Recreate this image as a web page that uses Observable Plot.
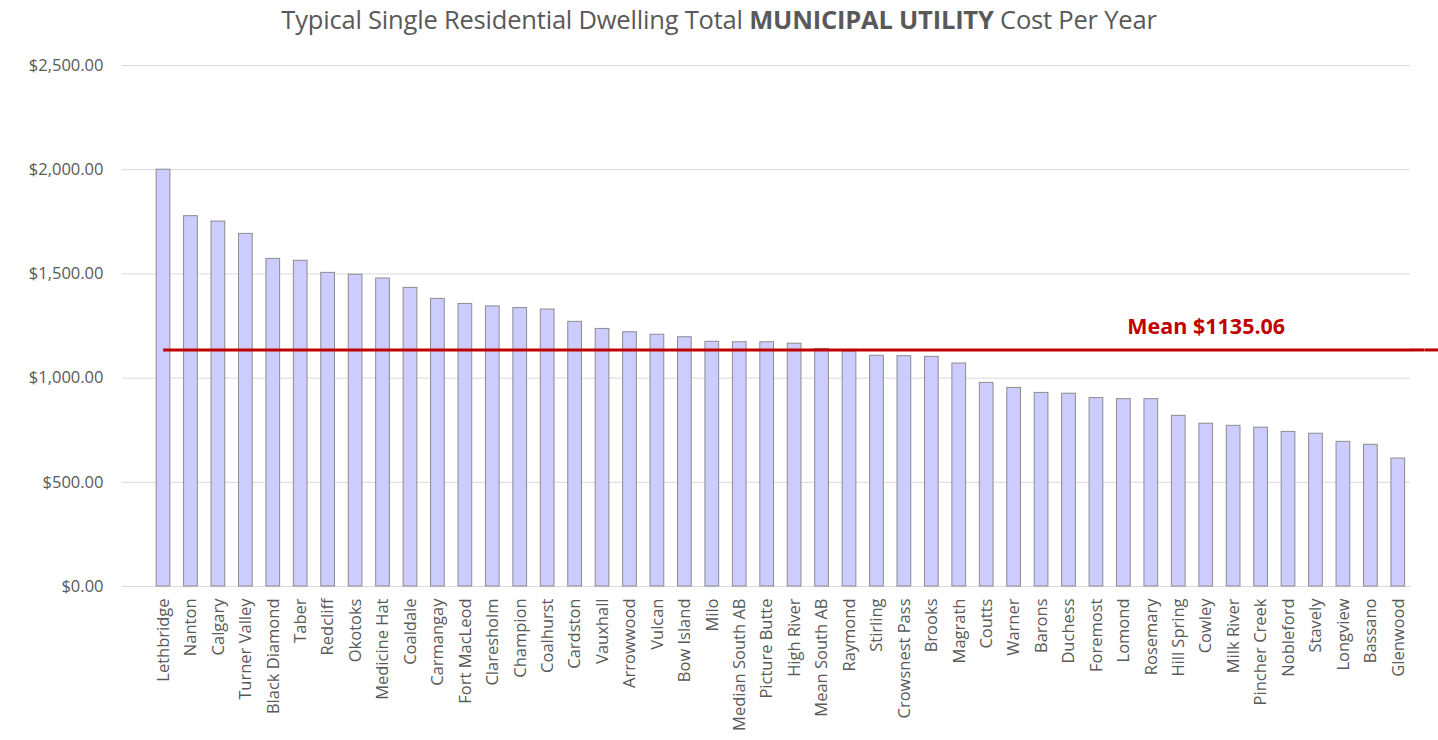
<!DOCTYPE html>
<html>
<head>
<meta charset="utf-8">
<script src="https://cdn.jsdelivr.net/npm/d3@7"></script>
<script src="https://cdn.jsdelivr.net/npm/@observablehq/plot@0.6"></script>
<style>
  body { margin: 0; background: #fff; font-family: "Open Sans", sans-serif; }
  #title { height: 36px; line-height: 38px; text-align: center; font-size: 25.5px; color: #595959; white-space: nowrap; letter-spacing: -0.2px; }
  #title b { font-weight: 700; }
</style>
</head>
<body>
<div id="title">Typical Single Residential Dwelling Total <b>MUNICIPAL UTILITY</b> Cost Per Year</div>
<div id="chart"></div>
<script>
const towns = ["Lethbridge","Nanton","Calgary","Turner Valley","Black Diamond","Taber","Redcliff","Okotoks","Medicine Hat","Coaldale","Carmangay","Fort MacLeod","Claresholm","Champion","Coalhurst","Cardston","Vauxhall","Arrowwood","Vulcan","Bow Island","Milo","Median South AB","Picture Butte","High River","Mean South AB","Raymond","Stirling","Crowsnest Pass","Brooks","Magrath","Coutts","Warner","Barons","Duchess","Foremost","Lomond","Rosemary","Hill Spring","Cowley","Milk River","Pincher Creek","Nobleford","Stavely","Longview","Bassano","Glenwood"];
const costs = [2000,1777,1751,1692,1572,1563,1505,1496,1478,1433,1380,1356,1344,1336,1329,1270,1236,1220,1208,1196,1174,1172,1172,1165,1140,1128,1107,1105,1102,1070,977,953,929,925,904,899,899,819,781,771,762,742,733,694,680,614];
const meanValue = 1135.06;
const meanLabel = "Mean $1135.06";
const yTicks = [0, 500, 1000, 1500, 2000, 2500];

const data = towns.map((t, i) => ({town: t, cost: costs[i]}));
const first = towns[0], last = towns[towns.length - 1];
const meanRule = (a, b, dx) => Plot.ruleY([meanValue], {x1: () => a, x2: () => b, dx, stroke: "#c00000", strokeWidth: 3, clip: false});

const chart = Plot.plot({
  width: 1438,
  height: 704,
  marginTop: 29,
  marginBottom: 154,
  marginLeft: 122,
  marginRight: 28,
  style: {fontFamily: "'Open Sans', sans-serif", background: "#fff", overflow: "visible"},
  x: {domain: towns, range: [149.3, 1411.5], paddingInner: 0.5, paddingOuter: 0.25, round: false, label: null},
  y: {domain: [0, 2500], label: null},
  marks: [
    Plot.gridY(yTicks, {stroke: "#d9d9d9", strokeOpacity: 1, strokeWidth: 1}),
    Plot.barY(data, {x: "town", y: "cost", fill: "#ccccff", stroke: "#8c8c8c", strokeWidth: 1}),
    meanRule(first, last, 7),
    meanRule(last, last, 20),
    meanRule(last, last, 34),
    Plot.text([meanLabel], {x: () => "Cowley", y: () => meanValue, dy: -23, text: d => d, fill: "#c00000", fontSize: 21.5, fontWeight: "bold", textAnchor: "middle"}),
    Plot.axisY(yTicks, {tickSize: 0, tickPadding: 19, fontSize: 16.5, fill: "#595959", tickFormat: d => "$" + d3.format(",.2f")(d), label: null}),
    Plot.axisX({tickSize: 0, tickPadding: 12, tickRotate: -90, fontSize: 16.5, fill: "#595959", label: null})
  ]
});
document.getElementById("chart").appendChild(chart);
</script>
</body>
</html>
